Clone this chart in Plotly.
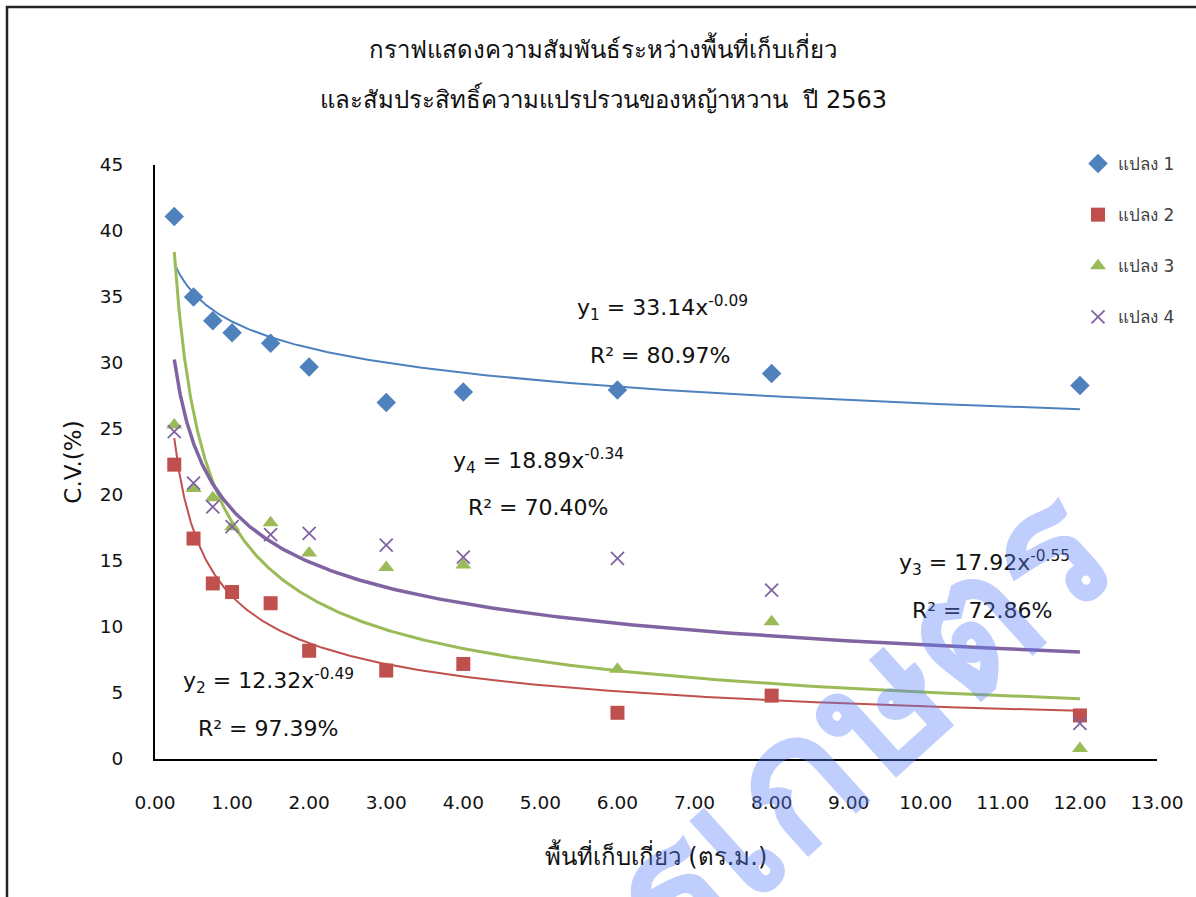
import numpy as np
import plotly.graph_objects as go

# ---- data ----
area = [0.25, 0.5, 0.75, 1, 1.5, 2, 3, 4, 6, 8, 12]
plot1 = [41.1, 35.0, 33.2, 32.3, 31.5, 29.7, 27.0, 27.8, 27.95, 29.2, 28.3]
plot2 = [22.3, 16.7, 13.3, 12.65, 11.8, 8.2, 6.7, 7.2, 3.5, 4.8, 3.3]
plot3 = [25.3, 20.5, 19.8, 17.6, 17.9, 15.6, 14.5, 14.7, 6.8, 10.4, 0.8]
plot4 = [24.8, 20.9, 19.1, 17.6, 17.0, 17.1, 16.2, 15.3, 15.2, 12.8, 2.7]
series_names = ["แปลง 1", "แปลง 2", "แปลง 3", "แปลง 4"]
# power trendline coefficients y = a * x^b (from chart labels)
trend_a = [33.14, 12.32, 17.92, 18.89]
trend_b = [-0.09, -0.49, -0.55, -0.34]
r2_labels = ["80.97%", "97.39%", "72.86%", "70.40%"]
x_ticks = list(range(0, 14))
y_ticks = list(range(0, 50, 5))

title_lines = ["กราฟแสดงความสัมพันธ์ระหว่างพื้นที่เก็บเกี่ยว",
               "และสัมประสิทธิ์ความแปรปรวนของหญ้าหวาน  ปี 2563"]
x_title = "พื้นที่เก็บเกี่ยว (ตร.ม.)"
y_title = "C.V.(%)"
watermark = "กรมวิชาการเกษตร"

# ---- styles ----
colors = ["#4F81BD", "#C0504D", "#9BBB59", "#8064A2"]
symbols = ["diamond", "square", "triangle-up", "x-thin-open"]
msizes = [15, 14, 14, 13]
line_w = [2, 2, 3, 3.5]
FONT = "DejaVu Sans, Noto Sans, sans-serif"

W, H = 1196, 897
L, R, T, B = 155, 39, 165, 138
pw = W - L - R
ph = H - T - B

def px2data(px, py):
    return (px - L) / pw * 13, (H - B - py) / ph * 45

def px2paper(px, py):
    return (px - L) / pw, (H - B - py) / ph

fig = go.Figure()
all_y = [plot1, plot2, plot3, plot4]

# trendlines (drawn under markers)
xmin, xmax = min(area), max(area)
xs = np.geomspace(xmin, xmax, 300)
for i in range(4):
    fig.add_trace(go.Scatter(
        x=xs, y=trend_a[i] * xs ** trend_b[i], mode="lines",
        line=dict(color=colors[i], width=line_w[i]),
        showlegend=False, hoverinfo="skip"))

for i in range(4):
    mk = dict(color=colors[i], size=msizes[i], symbol=symbols[i])
    if symbols[i].startswith("x"):
        mk["line"] = dict(color=colors[i], width=1.8)
    fig.add_trace(go.Scatter(
        x=area, y=all_y[i], mode="markers", name=series_names[i],
        marker=mk, legendgroup=f"g{i}"))

# equation annotations
ann_pos = [(662, 308), (268, 681), (984, 563), (538, 461)]
r2_pos = [(660, 355), (268, 728), (982, 610), (538, 507)]

annots = []
for i in range(4):
    ax, ay = px2data(*ann_pos[i])
    annots.append(dict(
        x=ax, y=ay, xref="x", yref="y", showarrow=False,
        text=f"y<sub>{i+1}</sub> = {trend_a[i]:.2f}x<sup>{trend_b[i]:.2f}</sup>",
        font=dict(family=FONT, size=22, color="#111")))
    rx, ry = px2data(*r2_pos[i])
    annots.append(dict(
        x=rx, y=ry, xref="x", yref="y", showarrow=False,
        text=f"R² = {r2_labels[i]}",
        font=dict(family=FONT, size=22, color="#111")))

# title lines
for line, ty in zip(title_lines, [48, 98]):
    tx, tyy = px2paper(603, ty)
    annots.append(dict(
        x=tx, y=tyy, xref="paper", yref="paper", showarrow=False,
        text=line, font=dict(family=FONT, size=24, color="#111"),
        xanchor="center", yanchor="middle"))

# watermark (partly outside the picture, as in the source image)
wx, wy = px2paper(540, 1010)
annots.append(dict(
    x=wx, y=wy, xref="paper", yref="paper", showarrow=False,
    text=f"<b>{watermark}</b>", textangle=-42,
    font=dict(family=FONT, size=180, color="rgba(90,125,250,0.38)"),
    xanchor="center", yanchor="middle"))

lx, ly = px2paper(1078, 146)
bx0, by1 = px2paper(7, 7)
bx1, by0 = px2paper(1260, 1000)
fig.update_layout(
    width=W, height=H,
    margin=dict(l=L, r=R, t=T, b=B, autoexpand=False),
    paper_bgcolor="white", plot_bgcolor="white",
    font=dict(family=FONT, size=18.5, color="#111"),
    annotations=annots,
    legend=dict(x=lx, y=ly, xanchor="left", yanchor="top",
                font=dict(family=FONT, size=17, color="#404040"),
                tracegroupgap=26, bgcolor="rgba(0,0,0,0)"),
    shapes=[dict(type="rect", xref="paper", yref="paper",
                 x0=bx0, x1=bx1, y0=by0, y1=by1,
                 line=dict(color="#222", width=2.5), layer="below")],
)
fig.update_xaxes(range=[0, 13], tickvals=x_ticks, tickformat=".2f",
                 showgrid=False, zeroline=False, showline=True,
                 linecolor="black", linewidth=2, ticks="",
                 ticklabelstandoff=26,
                 title=dict(text=x_title, standoff=36,
                            font=dict(family=FONT, size=24, color="#111")))
fig.update_yaxes(range=[0, 45], tickvals=y_ticks,
                 showgrid=False, zeroline=False, showline=True,
                 linecolor="black", linewidth=2, ticks="",
                 ticklabelstandoff=26,
                 title=dict(text=y_title, standoff=12,
                            font=dict(family=FONT, size=23, color="#111")))

fig.write_html("out.html", config={"displayModeBar": False},
               post_script="document.body.style.margin='0';document.body.style.overflow='hidden';")
